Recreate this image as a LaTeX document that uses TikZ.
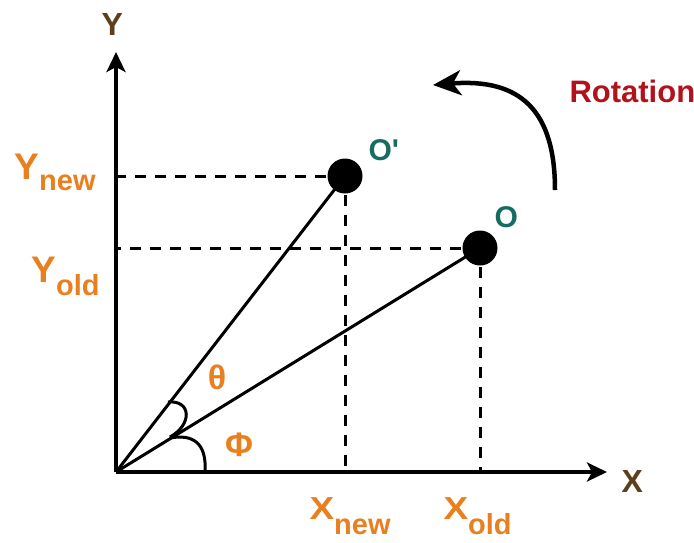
\documentclass[tikz,border=0pt]{standalone}
\usepackage{fontspec}
\setmainfont{Liberation Sans}
\usetikzlibrary{arrows.meta}
\definecolor{lblorange}{RGB}{232,128,32}
\definecolor{axbrown}{RGB}{94,62,28}
\definecolor{ptteal}{RGB}{22,108,98}
\definecolor{rotred}{RGB}{178,18,28}
\newcommand{\lowidx}[2][11pt]{\raisebox{-#1}{\fontsize{29}{29}\selectfont #2}}

\begin{document}
\begin{tikzpicture}[x=1pt, y=-1pt, line width=3pt,
  dot/.style={circle,fill=black,inner sep=0pt,minimum size=35pt},
  lbl/.style={text=lblorange,font=\fontsize{37}{37}\selectfont\bfseries,inner sep=0pt,anchor=base west},
  axlbl/.style={text=axbrown,font=\fontsize{32}{32}\selectfont\bfseries,inner sep=0pt,anchor=base west},
  ptlbl/.style={text=ptteal,font=\fontsize{30}{30}\selectfont\bfseries,inner sep=0pt,anchor=base west},
  anglbl/.style={text=lblorange,font=\fontsize{34}{34}\selectfont\bfseries,inner sep=0pt},
  axis/.style={line width=3.5pt,-{Stealth[length=20pt,width=19pt,inset=5pt]}},
  guide/.style={dash pattern=on 11pt off 9pt}]
  \useasboundingbox (0,0) rectangle (694,542);
  % axes
  \coordinate (orig) at (116,472);
  \coordinate (ytip) at (116,52);
  \coordinate (xtip) at (607,472);
  \draw[axis] (orig) -- (ytip);
  \draw[axis] (orig) -- (xtip);
  \node[axlbl] (ylab) at (100,35) {Y};
  \node[axlbl] (xlab) at (620,492) {X};
  % the two points
  \node[dot] (Onew) at (345,176) {};
  \node[dot] (Oold) at (480,248) {};
  \draw (orig) -- (Onew.center);
  \draw (orig) -- (Oold.center);
  \node[ptlbl] (Onewlab) at (367,160) {O\textquotesingle};
  \node[ptlbl] (Ooldlab) at (493,227) {O};
  % projections
  \draw[guide] (Onew) -- (orig |- Onew);
  \draw[guide] (Oold) -- (orig |- Oold);
  \draw[guide] (Onew) -- (Onew |- orig);
  \draw[guide] (Oold) -- (Oold |- orig);
  \node[lbl] (ynew) at (13,179) {Y\lowidx{new}};
  \node[lbl] (yold) at (30,282) {Y\lowidx[13pt]{old}};
  \node[lbl] (xnew) at (308,519) {\scalebox{1}[0.86]{X}\lowidx[15pt]{new}};
  \node[lbl] (xold) at (442,519) {\scalebox{1}[0.86]{X}\lowidx[15pt]{old}};
  % angles
  \draw (205,472) .. controls (207,442) and (192,434) .. (170,438);
  \draw (170,437) .. controls (192,425) and (192,400) .. (168,402);
  \node[anglbl] (theta) at (217,377) {θ};
  \node[anglbl] (phi) at (239,445) {Φ};
  % rotation arrow
  \coordinate (rotfrom) at (555,190);
  \coordinate (rotto) at (433,85);
  \draw[line width=4.5pt,-{Stealth[length=28pt,width=25pt,inset=8pt]}]
    (rotfrom) .. controls (555,110) and (520,78) .. (rotto);
  \node[text=rotred,font=\fontsize{31}{31}\selectfont\bfseries,inner sep=0pt,anchor=base west]
    (rotlab) at (568,102) {Rotation};
\end{tikzpicture}
\end{document}
